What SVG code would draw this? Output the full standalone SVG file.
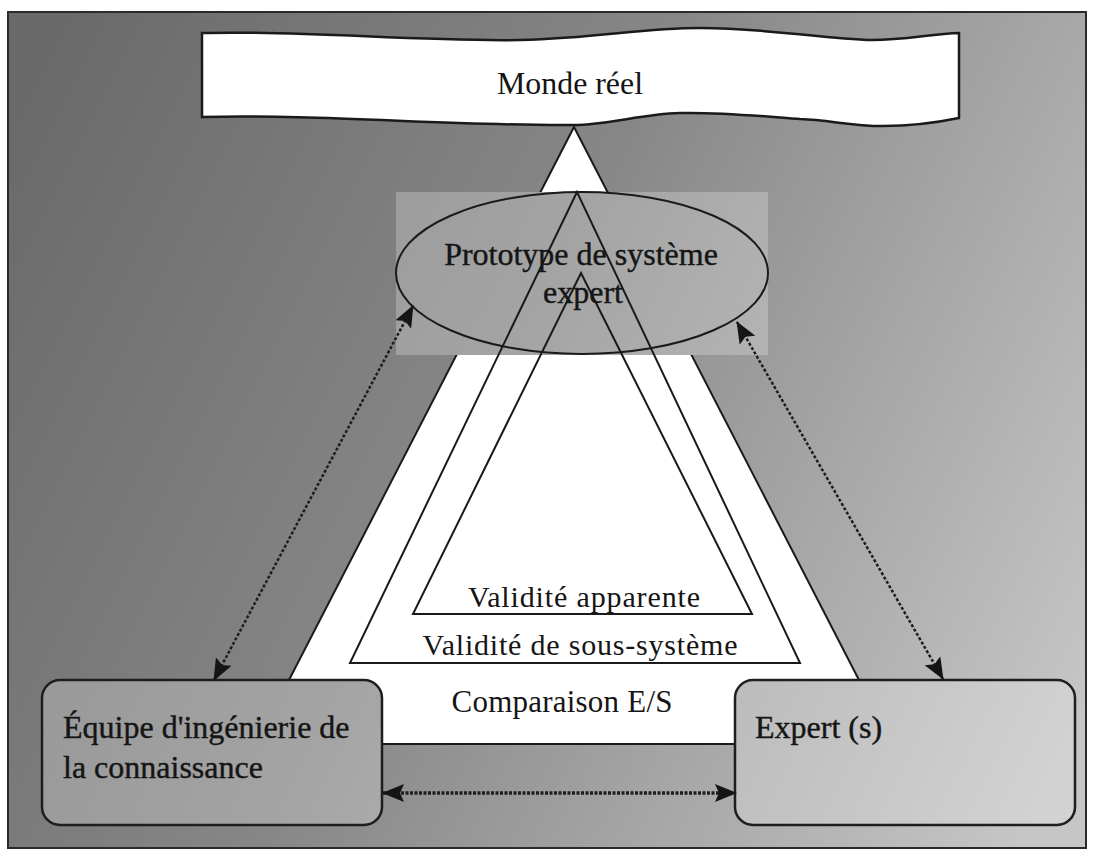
<svg xmlns="http://www.w3.org/2000/svg" width="1094" height="857" viewBox="0 0 1094 857">
  <defs>
    <linearGradient id="bg" gradientUnits="userSpaceOnUse" x1="0" y1="150" x2="1094" y2="700">
      <stop offset="0" stop-color="#6a6a6a"/>
      <stop offset="0.45" stop-color="#878787"/>
      <stop offset="1" stop-color="#c6c6c6"/>
    </linearGradient>
    <linearGradient id="panel" gradientUnits="userSpaceOnUse" x1="0" y1="150" x2="1094" y2="700">
      <stop offset="0" stop-color="#8e8e8e"/>
      <stop offset="0.45" stop-color="#a4a4a4"/>
      <stop offset="1" stop-color="#d2d2d2"/>
    </linearGradient>
    <marker id="head" viewBox="0 0 22 18" refX="21" refY="9" markerWidth="22" markerHeight="18" markerUnits="userSpaceOnUse" orient="auto-start-reverse">
      <path d="M0,0 L22,9 L0,18 L4,9 Z" fill="#151515"/>
    </marker>
    <style>
      .txt { font-family: "Liberation Serif", "Times New Roman", serif; fill: #151515; }
      .heavy { stroke: #151515; stroke-width: 0.4; }
      .edge { fill: none; stroke: #1a1a1a; stroke-width: 2; }
      .box { fill: url(#panel); stroke: #1e1e1e; stroke-width: 2.5; }
      .link { fill: none; stroke: #1e1e1e; stroke-width: 2.5; stroke-dasharray: 3 2; marker-start: url(#head); marker-end: url(#head); }
      .link.wide { stroke-width: 3.5; stroke-dasharray: 3 1.5; }
    </style>
  </defs>

  <!-- page and framed slide background -->
  <rect x="0" y="0" width="1094" height="857" fill="#ffffff"/>
  <rect x="8" y="12" width="1078" height="836" fill="url(#bg)" stroke="#2a2a2a" stroke-width="2"/>

  <!-- validation pyramid backdrop -->
  <g id="pyramid">
    <polygon points="574,127 256,744 892,744" fill="#ffffff" stroke="#1a1a1a" stroke-width="2"/>
  </g>

  <!-- real-world banner -->
  <g id="monde-reel">
    <path d="M202,33 C300,30 420,42 520,40 C600,38 640,28 700,28 C760,28 800,36 867,40 C900,41 930,34 959,33 L959,118 C930,124 905,126 883,126 C850,126 830,120 800,119 C760,116 720,112 680,113 C640,114 610,125 573,125 C450,126 320,114 202,117 Z" fill="#ffffff" stroke="#1a1a1a" stroke-width="2.5"/>
    <text class="txt" x="570" y="94" font-size="31" text-anchor="middle" textLength="146" lengthAdjust="spacingAndGlyphs">Monde réel</text>
  </g>

  <!-- expert system prototype -->
  <g id="prototype">
    <rect x="396" y="192" width="372" height="163" fill="url(#panel)"/>
    <ellipse cx="582" cy="273" rx="186" ry="81" class="edge"/>
  </g>

  <!-- nested validity levels -->
  <g id="validity-levels">
    <polygon points="577,192 350,663 800,663" class="edge"/>
    <polygon points="581,273 413,614 752,614" class="edge"/>
    <text class="txt" x="584" y="607" font-size="30" text-anchor="middle" textLength="232" lengthAdjust="spacing">Validité apparente</text>
    <text class="txt" x="580" y="655" font-size="30" text-anchor="middle" textLength="315" lengthAdjust="spacing">Validité de sous-système</text>
    <text class="txt" x="562" y="712" font-size="31" text-anchor="middle" textLength="221" lengthAdjust="spacing">Comparaison E/S</text>
  </g>

  <g id="prototype-label">
    <text class="txt heavy" x="581" y="265" font-size="32" text-anchor="middle">Prototype de système</text>
    <text class="txt heavy" x="583" y="303" font-size="32" text-anchor="middle">expert</text>
  </g>

  <!-- knowledge engineering team -->
  <g id="equipe">
    <rect x="42" y="680" width="340" height="145" rx="18" class="box"/>
    <text class="txt heavy" x="63" y="738" font-size="32">Équipe d'ingénierie de</text>
    <text class="txt heavy" x="63" y="778" font-size="32">la connaissance</text>
  </g>

  <!-- domain experts -->
  <g id="expert">
    <rect x="735" y="680" width="340" height="145" rx="18" class="box"/>
    <text class="txt heavy" x="755" y="738" font-size="32">Expert (s)</text>
  </g>

  <!-- two-way exchanges -->
  <g id="connectors">
    <line x1="214" y1="680" x2="413" y2="306" class="link"/>
    <line x1="943" y1="679" x2="737" y2="322" class="link"/>
    <line x1="383" y1="793" x2="736" y2="793" class="link wide"/>
  </g>
</svg>
